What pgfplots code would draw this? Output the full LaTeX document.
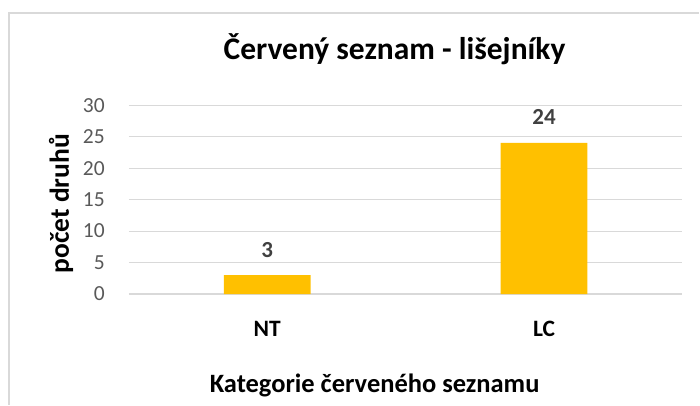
\documentclass[border=0pt]{standalone}
\usepackage{pgfplots}
\pgfplotsset{compat=1.18}
\usepackage{fontspec}
\setmainfont{Carlito}
\definecolor{barc}{HTML}{FFC000}
\definecolor{gridc}{HTML}{D9D9D9}
\definecolor{tickc}{HTML}{595959}
\definecolor{lblc}{HTML}{404040}
\begin{document}
\begin{tikzpicture}
\path (0bp,0bp) rectangle (700bp,405bp);
\draw[gridc, line width=1.2bp] (9bp,0bp) -- (9bp,392bp) -- (700bp,392bp);
\begin{axis}[
    at={(129bp,110.7bp)}, anchor=south west,
    width=554bp, height=189bp, scale only axis,
    xmin=-0.5, xmax=1.5, ymin=0, ymax=30,
    xtick={0,1}, xticklabels={NT,LC},
    ytick={0,5,...,30},
    /pgf/number format/assume math mode=true,
    axis line style={draw=none},
    major tick style={draw=none},
    ymajorgrids, grid style={gridc, line width=1.2bp},
    yticklabel style={anchor=east, inner sep=0pt, xshift=-24bp, text=tickc, font=\fontsize{21.5bp}{24bp}\selectfont},
    xticklabel style={anchor=base, inner sep=0pt, yshift=-38.7bp, font=\bfseries\fontsize{23.5bp}{26bp}\selectfont},
    title={Červený seznam - lišejníky},
    title style={at={(axis description cs:0.480,1.213)}, anchor=base, inner sep=0pt, font=\bfseries\fontsize{31.5bp}{34bp}\selectfont},
    xlabel={Kategorie červeného seznamu},
    xlabel style={at={(axis description cs:0.444,-0.522)}, anchor=base, inner sep=0pt, font=\bfseries\fontsize{26.5bp}{29bp}\selectfont},
    ylabel={počet druhů},
    ylabel style={at={(axis description cs:-0.1083,0.478)}, anchor=base, inner sep=0pt, font=\bfseries\fontsize{27.5bp}{30bp}\selectfont},
    ybar, bar width=0.314, bar shift=0pt,
    nodes near coords,
    every node near coord/.append style={anchor=base, yshift=18bp, inner sep=0pt, text=lblc, font=\bfseries\fontsize{23bp}{26bp}\selectfont},
]
\addplot[fill=barc, draw=none] coordinates {(0,3) (1,24)};
\end{axis}
\end{tikzpicture}
\end{document}
